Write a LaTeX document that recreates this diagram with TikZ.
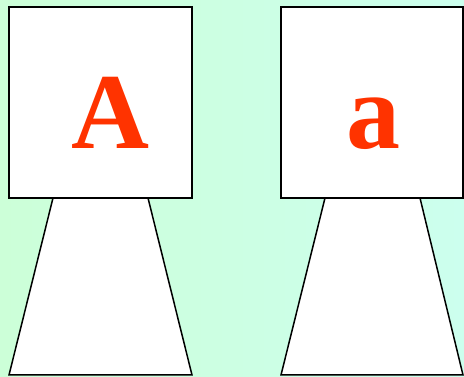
\documentclass[tikz,border=0pt]{standalone}
\usepackage{fontspec}
\setmainfont{Liberation Serif}
\usepackage{tikz}
\definecolor{bgleft}{RGB}{204,255,216}
\definecolor{bgright}{RGB}{204,255,238}
\definecolor{letter}{RGB}{255,51,0}

\begin{document}
\begin{tikzpicture}[x=1pt, y=1pt]
  \tikzset{
    card/.style={draw, line width=1.5pt, fill=white},
    glyph/.style={font=\fontsize{108}{108}\selectfont\bfseries, text=letter, inner sep=0pt, anchor=base}
  }
  \shade[left color=bgleft, right color=bgright] (0,0) rectangle (464,377);
  \useasboundingbox (0,0) rectangle (464,377);
  % stands
  \draw[card] (9,2) -- (192,2) -- (148,179) -- (53,179) -- cycle;
  \draw[card] (281,2) -- (463,2) -- (420,179) -- (325,179) -- cycle;
  % cards
  \draw[card] (9,179) rectangle (192,370);
  \draw[card] (281,179) rectangle (463,370);
  \node[glyph] (upper) at (110.5,228) {A};
  \node[glyph] (lower) at (373,228) {a};
\end{tikzpicture}
\end{document}
